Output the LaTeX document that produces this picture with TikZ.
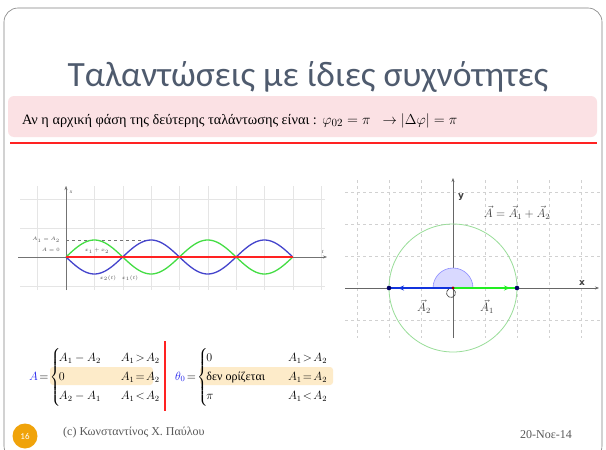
\documentclass[tikz,border=0pt]{standalone}
\usepackage{amsmath}
\usepackage{fontspec}
\setmainfont{Liberation Serif}
\newfontfamily\titlefont{Carlito}
\newfontfamily\axisfont{DejaVu Sans}
\usepackage{tikz}
\usetikzlibrary{positioning,calc,arrows.meta}
\definecolor{titlegray}{HTML}{4F5B6E}
\definecolor{boxpink}{HTML}{FBE1E4}
\definecolor{hilite}{HTML}{FDEBC9}
\definecolor{eqblue}{HTML}{2222EE}
\definecolor{wavegreen}{HTML}{44DD44}
\definecolor{waveblue}{HTML}{4444CC}
\definecolor{wavered}{HTML}{FF2222}
\definecolor{phasorblue}{HTML}{1133DD}
\definecolor{phasorgreen}{HTML}{22EE22}
\definecolor{circgreen}{HTML}{99DD99}
\definecolor{footorange}{HTML}{F0A30A}
\definecolor{footgray}{HTML}{595959}
\tikzstyle{line} = [draw,thick]
\tikzstyle{gridline} = [draw=black!10,line width=0.4pt]
\tikzstyle{phasorgrid} = [draw=black!18,dashed,line width=0.4pt]
\tikzstyle{axisline} = [draw=black!55,line width=0.5pt,-{Stealth[length=4pt]}]
\tikzstyle{hibox} = [fill=hilite,rounded corners=3pt]
\tikzstyle{tinylabel} = [font=\fontsize{5.5}{6}\selectfont,text=black!70,inner sep=0pt]
\tikzstyle{vectext} = [font=\fontsize{12}{14}\selectfont,text=black!75,inner sep=0pt]

\begin{document}
\begin{tikzpicture}[x=1pt,y=-1pt]
\useasboundingbox (0,0) rectangle (606,450);
\fill[white] (0,0) rectangle (606,450);
% slide frame
\draw[black!50,line width=0.6pt,rounded corners=14pt] (4,8) rectangle (602,460);
\node[anchor=base,text=titlegray,font=\titlefont\fontsize{35.5}{40}\selectfont] (title) at (308,86) {Ταλαντώσεις με ίδιες συχνότητες};

% condition box
\fill[boxpink,rounded corners=6pt] (8,96) rectangle (597,137);
\node[anchor=base west,font=\fontsize{14.3}{16}\selectfont,inner sep=0pt] (cond) at (22,124) {Αν η αρχική φάση της δεύτερης ταλάντωσης είναι :};
\node[anchor=base west,font=\fontsize{15}{17}\selectfont,inner sep=0pt] (condmath) at ($(cond.base east)+(5,0)$) {$\varphi_{02}=\pi\;\;\rightarrow\left|\Delta\varphi\right|=\pi$};
\draw[wavered,line width=1.8pt] (10,143) -- (597,143);

% left plot: grid and axes
\foreach \gx in {37.65,66,...,322} \draw[gridline] (\gx,186) -- (\gx,290);
\foreach \gy in {199,228,286} \draw[gridline] (20,\gy) -- (325,\gy);
\draw[axisline] (66,290) -- (66,186);
\draw[axisline] (18,257) -- (327,257);
\node[tinylabel,font=\itshape\fontsize{5.5}{6}\selectfont] (xlab) at (71,192) {x};
\node[tinylabel,font=\itshape\fontsize{5.5}{6}\selectfont] (tlab) at (323,252) {t};
\draw[black!55,dashed,line width=0.5pt] (66,240) -- (150,240);
\node[tinylabel,anchor=east] (lvlA) at (60,240) {$A_1=A_2$};
\node[tinylabel,anchor=east] (lvlB) at (60,250) {$A=0$};
% waves
\draw[wavegreen,line width=1.3pt] plot[domain=0:4,samples=100] ({66+56.7*\x},{257-17*sin(180*\x)});
\draw[waveblue,line width=1.3pt] plot[domain=0:4,samples=100] ({66+56.7*\x},{257+17*sin(180*\x)});
\draw[wavered,line width=1.3pt] (66,257) -- (293,257);
\node[tinylabel] (sumlab) at (97,251) {$x_1+x_2$};
\node[tinylabel] (x2lab) at (108,278) {$x_2(t)$};
\node[tinylabel] (x1lab) at (130,278) {$x_1(t)$};

% right plot: phasors
\coordinate (O) at (453,288);
\coordinate (A1end) at (517,288);
\coordinate (A2end) at (389,288);
\foreach \gx in {357,389,...,590} \draw[phasorgrid] (\gx,180) -- (\gx,338);
\foreach \gy in {192,224,256,320} \draw[phasorgrid] (345,\gy) -- (600,\gy);
\draw[axisline,draw=black!60] (345,288) -- (599,288);
\draw[axisline,draw=black!60] (453,338) -- (453,178);
\node[font=\axisfont\bfseries\fontsize{9}{10}\selectfont,text=black!75] (ylab) at (461,197) {y};
\node[font=\axisfont\bfseries\fontsize{9}{10}\selectfont,text=black!75] (xlab2) at (582,283) {x};
\draw[circgreen,line width=0.8pt] (O) circle (64);
\draw[fill=blue!15,draw=blue!45,line width=0.6pt] ($(O)+(20,0)$) arc[start angle=0,end angle=-180,radius=20] -- cycle;
\draw[phasorgreen,line width=2.4pt] (O) -- (A1end);
\draw[phasorblue,line width=2.4pt] (O) -- (A2end);
\draw[phasorgreen,line width=2.4pt,-{Stealth[length=6pt,width=5pt]}] (O) -- ($(A1end)+(-7,0)$);
\draw[phasorblue,line width=2.4pt,-{Stealth[length=6pt,width=5pt]}] (O) -- ($(A2end)+(9,0)$);
\fill[blue!40!black] (A1end) circle (2.3);
\fill[blue!40!black] (A2end) circle (2.3);
\fill[red!60!black] (O) circle (1.6);
\draw[black!75,line width=0.6pt] (451,293) ++(-60:4.5) arc[start angle=-60,end angle=240,radius=4.5];
\node[vectext] (sumeq) at (517,213) {$\vec{A}=\vec{A}_1+\vec{A}_2$};
\node[vectext] (A2lab) at (424,307) {$\vec{A}_2$};
\node[vectext] (A1lab) at (487,307) {$\vec{A}_1$};

% piecewise formulas
\fill[hibox] (50,367) rectangle (153,385);
\fill[hibox] (200,367) rectangle (333,385);
\draw[wavered,line width=1.6pt] (165,341) -- (165,411);
\node[anchor=west,inner sep=0pt,font=\fontsize{12}{14}\selectfont] (Aeq) at (29,377)
  {$\color{eqblue}A\color{black}\!=\!\renewcommand\arraystretch{1.35}\left\{\hspace{-1.5pt}\begin{array}{@{}l@{\hspace{20pt}}l}A_1-A_2 & A_1\!>\!A_2\\ 0 & A_1\!=\!A_2\\ A_2-A_1 & A_1\!<\!A_2\end{array}\right.$};
\node[anchor=west,inner sep=0pt,font=\fontsize{12}{14}\selectfont] (thetaeq) at (175,377)
  {$\color{eqblue}\theta_0\color{black}\!=\!\renewcommand\arraystretch{1.35}\left\{\hspace{-1.5pt}\begin{array}{@{}l@{\hspace{23pt}}l}0 & A_1\!>\!A_2\\ \text{δεν ορίζεται} & A_1\!=\!A_2\\ \pi & A_1\!<\!A_2\end{array}\right.$};

% footer
\node[circle,fill=footorange,minimum size=25pt,inner sep=0pt,text=white,font=\titlefont\fontsize{9}{10}\selectfont] (pagenum) at (25,436) {16};
\node[anchor=base west,inner sep=0pt,text=footgray,font=\fontsize{12}{14}\selectfont] (author) at (63,435) {(c) Κωνσταντίνος Χ. Παύλου};
\node[anchor=base east,inner sep=0pt,text=footgray,font=\fontsize{12}{14}\selectfont] (date) at (572,438) {20-Νοε-14};
\end{tikzpicture}
\end{document}
